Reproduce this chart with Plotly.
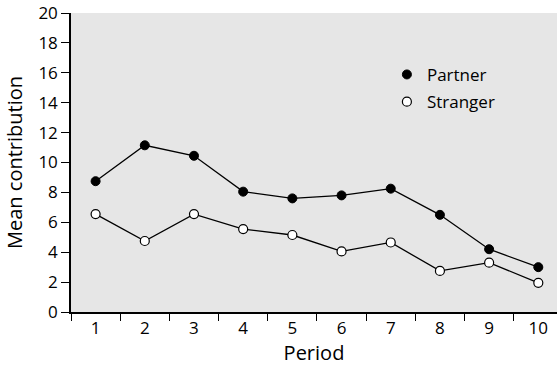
import plotly.graph_objects as go

periods = ["1", "2", "3", "4", "5", "6", "7", "8", "9", "10"]
partner = [8.75, 11.15, 10.45, 8.05, 7.6, 7.8, 8.25, 6.5, 4.2, 3.0]
stranger = [6.55, 4.75, 6.55, 5.55, 5.15, 4.05, 4.65, 2.75, 3.3, 1.95]

FONT = "Open Sans"

fig = go.Figure()
fig.add_trace(go.Scatter(x=periods, y=partner, mode="lines+markers", showlegend=False,
                         line=dict(color="black", width=1.3),
                         marker=dict(size=9, color="black", line=dict(color="black", width=1))))
fig.add_trace(go.Scatter(x=periods, y=stranger, mode="lines+markers", showlegend=False,
                         line=dict(color="black", width=1.3),
                         marker=dict(size=9, color="white", line=dict(color="black", width=1.2))))
# legend-only entries
fig.add_trace(go.Scatter(x=[None], y=[None], mode="markers", name="Partner", legend="legend",
                         marker=dict(size=9, color="black", line=dict(color="black", width=1))))
fig.add_trace(go.Scatter(x=[None], y=[None], mode="markers", name="Stranger", legend="legend2",
                         marker=dict(size=9, color="white", line=dict(color="black", width=1.2))))

leg = dict(font=dict(family=FONT, size=17, color="black"), bgcolor="rgba(0,0,0,0)",
           borderwidth=0, xanchor="left", yanchor="middle")

fig.update_layout(
    width=557, height=372,
    margin=dict(l=71, r=0, t=13, b=60),
    paper_bgcolor="white", plot_bgcolor="#e6e6e6",
    font=dict(family=FONT, size=17, color="black"),
    legend=dict(x=0.650, y=0.793, **leg),
    legend2=dict(x=0.650, y=0.702, **leg),
    xaxis=dict(type="category", range=[-0.5, 9.38], tickson="boundaries",
               ticks="outside", ticklen=7, tickwidth=1.3, tickcolor="black",
               showline=True, linecolor="black", linewidth=1.5,
               showgrid=False, zeroline=False, automargin=False,
               title=dict(text="Period", standoff=8),
               tickfont=dict(size=17)),
    yaxis=dict(range=[0, 20], dtick=2, ticks="outside", ticklen=8, tickwidth=1.3,
               tickcolor="black", showline=True, linecolor="black", linewidth=1.5,
               showgrid=False, zeroline=False, automargin=False,
               title=dict(text="Mean contribution", standoff=10),
               tickfont=dict(size=17)),
)

fig.write_html("out.html", config={"displayModeBar": False},
               post_script="document.body.style.margin='0';")
